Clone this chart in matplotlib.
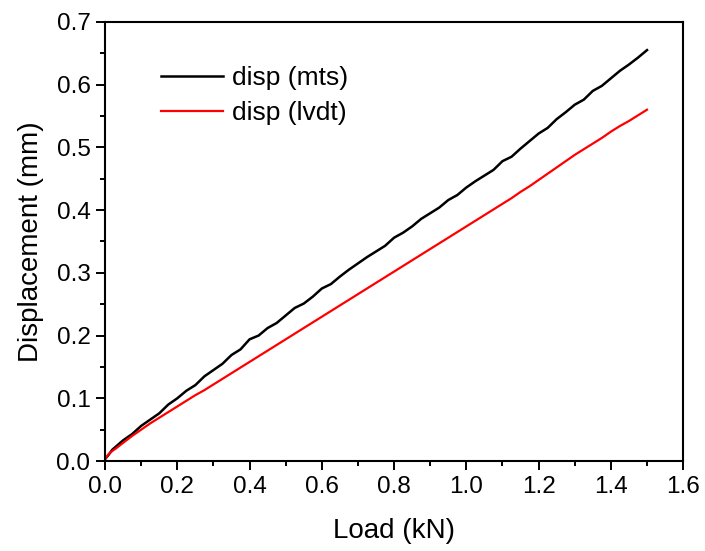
import numpy as np
import matplotlib
matplotlib.use('Agg')
import matplotlib.pyplot as plt
from matplotlib.ticker import MultipleLocator

plt.rcParams['font.family'] = ['Liberation Sans', 'DejaVu Sans']

# Datos
carga = [0.000, 0.010, 0.020, 0.030, 0.050, 0.075, 0.100, 0.125, 0.150, 0.175,
         0.200, 0.225, 0.250, 0.275, 0.300, 0.325, 0.350, 0.375, 0.400, 0.425,
         0.450, 0.475, 0.500, 0.525, 0.550, 0.575, 0.600, 0.625, 0.650, 0.675,
         0.700, 0.725, 0.750, 0.775, 0.800, 0.825, 0.850, 0.875, 0.900, 0.925,
         0.950, 0.975, 1.000, 1.025, 1.050, 1.075, 1.100, 1.125, 1.150, 1.175,
         1.200, 1.225, 1.250, 1.275, 1.300, 1.325, 1.350, 1.375, 1.400, 1.425,
         1.450, 1.475, 1.500]

disp_mts = [0.003, 0.010, 0.018, 0.023, 0.033, 0.043, 0.056, 0.066, 0.076, 0.090,
            0.100, 0.112, 0.121, 0.135, 0.145, 0.155, 0.169, 0.178, 0.194, 0.200,
            0.212, 0.220, 0.232, 0.244, 0.251, 0.262, 0.275, 0.282, 0.294, 0.305,
            0.315, 0.325, 0.334, 0.343, 0.356, 0.364, 0.374, 0.386, 0.395, 0.404,
            0.416, 0.424, 0.436, 0.446, 0.455, 0.464, 0.478, 0.485, 0.498, 0.510,
            0.522, 0.531, 0.545, 0.556, 0.568, 0.576, 0.590, 0.598, 0.610, 0.622,
            0.632, 0.643, 0.655]

disp_lvdt = [0.003, 0.011, 0.016, 0.020, 0.029, 0.040, 0.050, 0.060, 0.069, 0.078,
             0.087, 0.096, 0.105, 0.113, 0.122, 0.131, 0.140, 0.149, 0.158, 0.167,
             0.176, 0.185, 0.194, 0.203, 0.212, 0.221, 0.230, 0.239, 0.248, 0.257,
             0.266, 0.275, 0.284, 0.293, 0.302, 0.311, 0.320, 0.329, 0.338, 0.347,
             0.356, 0.365, 0.374, 0.383, 0.392, 0.401, 0.410, 0.419, 0.429, 0.438,
             0.448, 0.458, 0.468, 0.478, 0.488, 0.497, 0.506, 0.515, 0.525, 0.534,
             0.542, 0.551, 0.560]

fig = plt.figure(figsize=(7.05, 5.51), dpi=100)
ax = fig.add_axes([0.149, 0.1633, 0.82, 0.797])

ax.plot(carga, disp_mts, color='black', lw=1.8, label='disp (mts)')
ax.plot(carga, disp_lvdt, color='red', lw=1.6, label='disp (lvdt)')

ax.set_xlim(0, 1.6)
ax.set_ylim(0, 0.7)
ax.xaxis.set_major_locator(MultipleLocator(0.2))
ax.xaxis.set_minor_locator(MultipleLocator(0.1))
ax.yaxis.set_major_locator(MultipleLocator(0.1))
ax.yaxis.set_minor_locator(MultipleLocator(0.05))
ax.xaxis.set_major_formatter(plt.FormatStrFormatter('%.1f'))
ax.yaxis.set_major_formatter(plt.FormatStrFormatter('%.1f'))

ax.tick_params(which='both', direction='out', top=False, right=False, width=1.4)
ax.tick_params(which='major', length=6.5, labelsize=17.5, pad=4)
ax.tick_params(which='minor', length=3.5)
for s in ax.spines.values():
    s.set_linewidth(1.5)

ax.set_xlabel('Load (kN)', fontsize=20, labelpad=15)
ax.set_ylabel('Displacement (mm)', fontsize=20, labelpad=9)

ax.legend(loc='upper left', bbox_to_anchor=(0.097, 0.899), frameon=False, fontsize=19,
          borderpad=0, borderaxespad=0, handlelength=2.35, handletextpad=0.35,
          labelspacing=0.42)

fig.savefig('out.png', dpi=100)
